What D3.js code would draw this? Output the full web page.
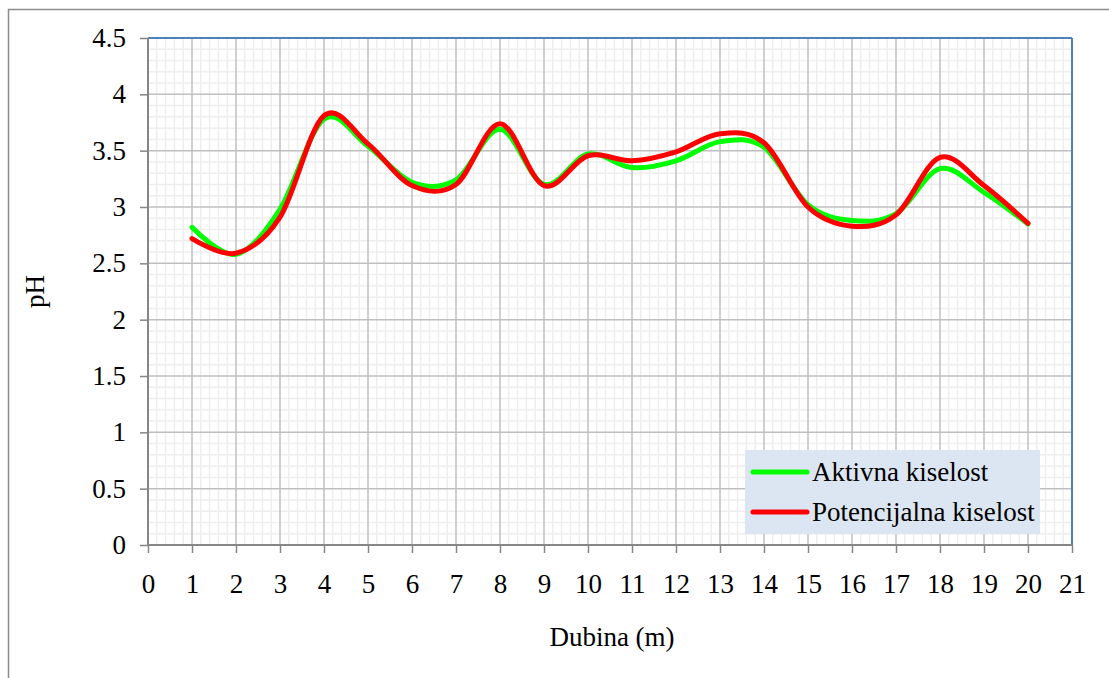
<!DOCTYPE html>
<html><head><meta charset="utf-8">
<script src="https://cdn.jsdelivr.net/npm/d3@7"></script>
<style>body{margin:0;background:#fff;} svg{display:block;}</style>
</head><body>
<svg id="c" width="1109" height="678"></svg>
<script>
const depths = [1,2,3,4,5,6,7,8,9,10,11,12,13,14,15,16,17,18,19,20];
const aktivna = [2.82,2.58,2.98,3.78,3.54,3.22,3.24,3.69,3.20,3.47,3.35,3.41,3.58,3.53,3.02,2.88,2.94,3.34,3.13,2.85];
const potencijalna = [2.72,2.59,2.91,3.81,3.56,3.19,3.20,3.74,3.19,3.455,3.41,3.49,3.65,3.57,3.00,2.83,2.93,3.44,3.19,2.855];
const xTicks = d3.range(0,22);
const yTicks = [0,0.5,1,1.5,2,2.5,3,3.5,4,4.5];
const seriesNames = ["Aktivna kiselost","Potencijalna kiselost"];
const seriesColors = ["#00FF00","#FF0000"];

const svg = d3.select("#c");
const L=148, R=1072, T=38, B=545;
const x = d3.scaleLinear().domain([0,21]).range([L,R]);
const y = d3.scaleLinear().domain([0,4.5]).range([B,T]);
const font = "'Liberation Serif','Times New Roman',serif";
const fs = 27;

svg.append("rect").attr("x",8.5).attr("y",9.5).attr("width",1120).attr("height",690)
  .attr("fill","none").attr("stroke","#8c8c8c").attr("stroke-width",1.5);

const g = svg.append("g");
const minorX = d3.range(0,21.001,0.2).filter(v=>Math.abs(v-Math.round(v))>1e-6);
const minorY = d3.range(0,4.5001,0.1).filter(v=>Math.abs(v*2-Math.round(v*2))>1e-6);
g.selectAll(".mx").data(minorX).join("line")
  .attr("x1",d=>x(d)).attr("x2",d=>x(d)).attr("y1",T).attr("y2",B)
  .attr("stroke","#EEEEEE").attr("stroke-width",1.5);
g.selectAll(".my").data(minorY).join("line")
  .attr("y1",d=>y(d)).attr("y2",d=>y(d)).attr("x1",L).attr("x2",R)
  .attr("stroke","#EEEEEE").attr("stroke-width",1.5);
g.selectAll(".gx").data(xTicks.slice(1,-1)).join("line")
  .attr("x1",d=>x(d)).attr("x2",d=>x(d)).attr("y1",T).attr("y2",B)
  .attr("stroke","#BFBFBF").attr("stroke-width",1.5);
g.selectAll(".gy").data(yTicks.slice(1,-1)).join("line")
  .attr("y1",d=>y(d)).attr("y2",d=>y(d)).attr("x1",L).attr("x2",R)
  .attr("stroke","#BFBFBF").attr("stroke-width",1.5);

svg.append("line").attr("x1",L).attr("x2",R).attr("y1",T).attr("y2",T).attr("stroke","#4F81BD").attr("stroke-width",2);
svg.append("line").attr("x1",R).attr("x2",R).attr("y1",T).attr("y2",B).attr("stroke","#4F81BD").attr("stroke-width",2);

const yAxis = d3.axisLeft(y).tickValues(yTicks).tickSize(8).tickPadding(14).tickFormat(d=>String(d));
const xAxis = d3.axisBottom(x).tickValues(xTicks).tickSize(8).tickPadding(21).tickFormat(d=>String(d));
const ya = svg.append("g").attr("transform",`translate(${L},0)`).call(yAxis);
const xa = svg.append("g").attr("transform",`translate(0,${B})`).call(xAxis);
[ya,xa].forEach(a=>{
  a.attr("font-size",fs).attr("font-family",font);
  a.select(".domain").attr("stroke","#868686").attr("stroke-width",2);
  a.selectAll(".tick line").attr("stroke","#868686").attr("stroke-width",1.5);
  a.selectAll("text").attr("font-family",font).attr("font-size",fs).attr("fill","#000");
});
ya.select(".domain").attr("d",`M0,${T}V${B}`);
xa.select(".domain").attr("d",`M${L},0H${R}`);

const line = d3.line().x((d,i)=>x(depths[i])).y(d=>y(d)).curve(d3.curveCatmullRom.alpha(0));
[aktivna,potencijalna].forEach((s,k)=>{
  svg.append("path").attr("d",line(s)).attr("fill","none")
    .attr("stroke",seriesColors[k]).attr("stroke-width",5).attr("stroke-linejoin","round").attr("stroke-linecap","round");
});

svg.append("text").attr("x",612).attr("y",637).attr("dy","0.35em").attr("text-anchor","middle")
  .attr("font-family",font).attr("font-size",fs).text("Dubina (m)");
svg.append("text").attr("transform",`translate(35,${(T+B)/2}) rotate(-90)`).attr("dy","0.35em").attr("text-anchor","middle")
  .attr("font-family",font).attr("font-size",fs).text("pH");

const lg = svg.append("g");
lg.append("rect").attr("x",745).attr("y",450).attr("width",295).attr("height",84).attr("fill","#DCE6F2");
seriesNames.forEach((n,i)=>{
  const yy = 472 + i*40;
  lg.append("line").attr("x1",753).attr("x2",807).attr("y1",yy).attr("y2",yy)
    .attr("stroke",seriesColors[i]).attr("stroke-width",5).attr("stroke-linecap","round");
  lg.append("text").attr("x",812).attr("y",yy).attr("dy","0.35em")
    .attr("font-family",font).attr("font-size",fs).text(n);
});
</script>
</body></html>
